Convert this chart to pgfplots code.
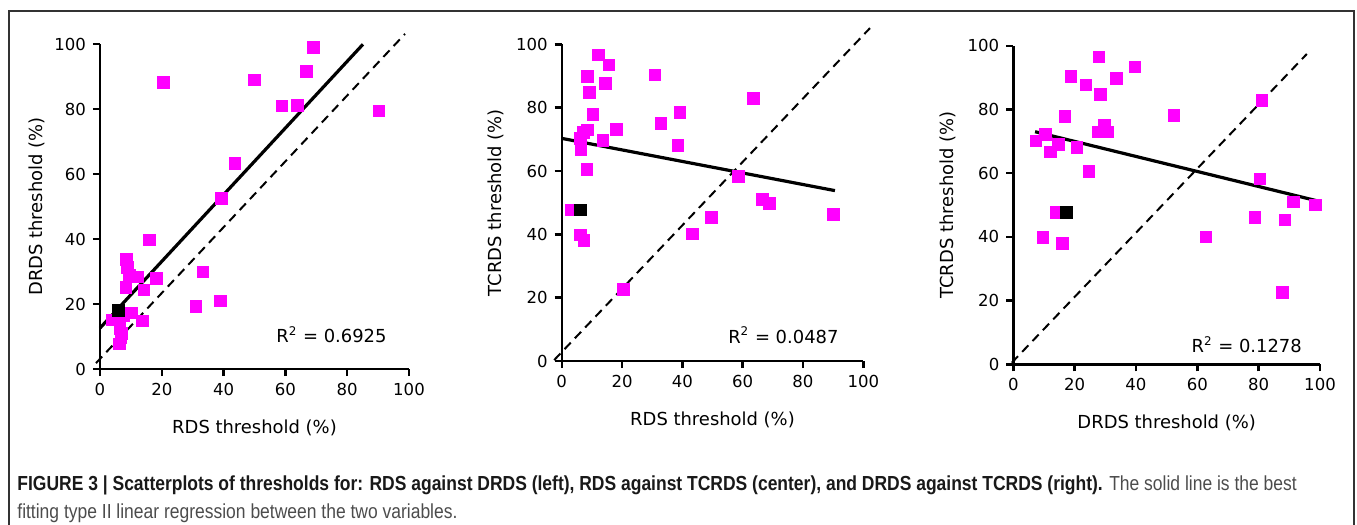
\documentclass[border=0pt]{standalone}
\usepackage{fontspec}
\setmainfont{DejaVu Sans}
\newfontfamily\capfont[FakeStretch=0.86]{Liberation Sans}
\usepackage{pgfplots}
\pgfplotsset{compat=1.18}
\definecolor{pink}{RGB}{255,0,255}
\pgfplotsset{panel/.style={
  scale only axis, xmin=0, xmax=100, ymin=0, ymax=100,
  axis lines=left, axis line style={-, line width=1.2bp, black},
  tick align=outside, major tick length=3.5bp,
  every tick/.style={black, line width=1.2bp},
  xtick={0,20,...,100}, ytick={0,20,...,100},
  ticklabel style={font=\fontsize{8.3}{9.6}\selectfont},
  label style={font=\fontsize{9}{10.8}\selectfont},
  /pgf/number format/assume math mode=true,
  clip=false,
  anchor=south west,
}}
\tikzset{
  pk/.style={only marks, mark=square*, mark size=2.9bp, mark options={fill=pink, draw=pink}},
  bk/.style={only marks, mark=square*, mark size=2.9bp, mark options={fill=black, draw=black}},
  fit/.style={black, line width=1.6bp, no marks},
  dsh/.style={black, line width=1bp, dash pattern=on 4.5bp off 3bp, no marks},
}
\begin{document}
\begin{tikzpicture}
\useasboundingbox (0,0) rectangle (678.5bp,-262.5bp);
\draw[line width=0.6bp, black!80] (4.5bp,-263bp) -- (4.5bp,-5.5bp) -- (677bp,-5.5bp) -- (677bp,-263bp);
% Panel 1
\begin{axis}[panel, at={(50bp,-184.5bp)}, width=154.5bp, height=162.5bp,
  xlabel={RDS threshold (\%)}, ylabel={DRDS threshold (\%)},
  xlabel style={at={(axis description cs:0.5,-0.18)}, anchor=center},
  ylabel style={at={(axis description cs:-0.204,0.5)}, anchor=center}]
\addplot[pk] coordinates {(20.5,88.1) (49.9,88.9) (69.0,98.9) (66.8,91.5) (58.9,81.0) (63.9,81.2) (90.2,79.4) (43.6,63.2) (39.3,52.5) (15.9,39.7) (8.6,33.7) (8.8,31.3) (9.5,28.9) (12.2,28.4) (18.3,27.9) (8.4,25.1) (14.2,24.3) (33.3,29.9) (31.0,19.2) (38.9,20.9) (10.2,17.3) (7.6,16.3) (13.8,14.8) (4.0,15.1) (7.0,11.0) (6.5,12.5) (6.8,9.8) (6.3,7.7)};
\addplot[dsh] coordinates {(-1.3,1.8) (98.7,103.1)};
\addplot[fit] coordinates {(0,12.6) (85.1,99.9)};
\addplot[bk] coordinates {(5.9,18.1)};
\node[font=\fontsize{9}{10.8}\selectfont] at (axis cs:74.9,10.6) {R\textsuperscript{2} = 0.6925};
\end{axis}
% Panel 2
\begin{axis}[panel, at={(280.85bp,-180.5bp)}, width=150.8bp, height=158.35bp,
  xlabel={RDS threshold (\%)}, ylabel={TCRDS threshold (\%)},
  xlabel style={at={(axis description cs:0.5,-0.186)}, anchor=center},
  ylabel style={at={(axis description cs:-0.219,0.5)}, anchor=center}]
\addplot[pk] coordinates {(12.2,96.6) (15.7,93.5) (8.6,89.8) (30.9,90.3) (14.4,87.7) (9.1,84.8) (63.5,82.9) (39.2,78.5) (10.3,77.9) (32.9,75.1) (18.2,73.2) (8.6,73.0) (7.2,72.1) (6.1,70.3) (13.6,69.6) (38.5,68.0) (6.4,66.8) (8.3,60.5) (58.6,58.2) (66.6,51.1) (68.8,49.8) (49.7,45.3) (90.1,46.3) (43.3,40.1) (3.3,47.7) (6.1,39.8) (7.4,38.0) (20.4,22.6)};
\addplot[dsh] coordinates {(-2.5,0.3) (102.2,105.1)};
\addplot[fit] coordinates {(0,70.3) (90.6,53.8)};
\addplot[bk] coordinates {(6.1,47.7)};
\node[font=\fontsize{9}{10.8}\selectfont] at (axis cs:73.5,8.2) {R\textsuperscript{2} = 0.0487};
\end{axis}
% Panel 3
\begin{axis}[panel, at={(506.65bp,-182.15bp)}, width=153.35bp, height=159.3bp,
  xlabel={DRDS threshold (\%)}, ylabel={TCRDS threshold (\%)},
  xlabel style={at={(axis description cs:0.5,-0.185)}, anchor=center},
  ylabel style={at={(axis description cs:-0.215,0.5)}, anchor=center}]
\addplot[pk] coordinates {(27.9,96.5) (39.7,93.4) (18.8,90.3) (23.7,87.7) (33.7,89.7) (28.4,84.8) (81.0,82.9) (16.8,77.9) (52.4,78.2) (29.7,75.1) (27.7,73.0) (30.7,73.0) (10.5,72.2) (7.3,70.1) (14.7,69.1) (12.0,66.7) (20.7,68.1) (24.7,60.5) (80.4,58.2) (91.3,51.0) (98.4,50.0) (78.8,46.1) (88.6,45.3) (62.8,40.0) (9.6,39.9) (16.0,38.0) (14.1,47.6) (87.8,22.5)};
\addplot[dsh] coordinates {(-0.5,0.5) (95.7,97.4)};
\addplot[fit] coordinates {(7.1,73.0) (99.1,51.3)};
\addplot[bk] coordinates {(17.4,47.6)};
\node[font=\fontsize{9}{10.8}\selectfont] at (axis cs:76.1,6.1) {R\textsuperscript{2} = 0.1278};
\end{axis}
% Caption
\node[anchor=base west, inner sep=0] at (8.5bp,-245bp) {\capfont\fontsize{10.2}{12}\selectfont\color{black!90}{\bfseries FIGURE 3 | Scatterplots of thresholds for: RDS against DRDS (left), RDS against TCRDS (center), and DRDS against TCRDS (right).} \color{black!70}The solid line is the best};
\node[anchor=base west, inner sep=0] at (8.5bp,-259bp) {\capfont\fontsize{10.2}{12}\selectfont\color{black!70}fitting type II linear regression between the two variables.};
\end{tikzpicture}
\end{document}
